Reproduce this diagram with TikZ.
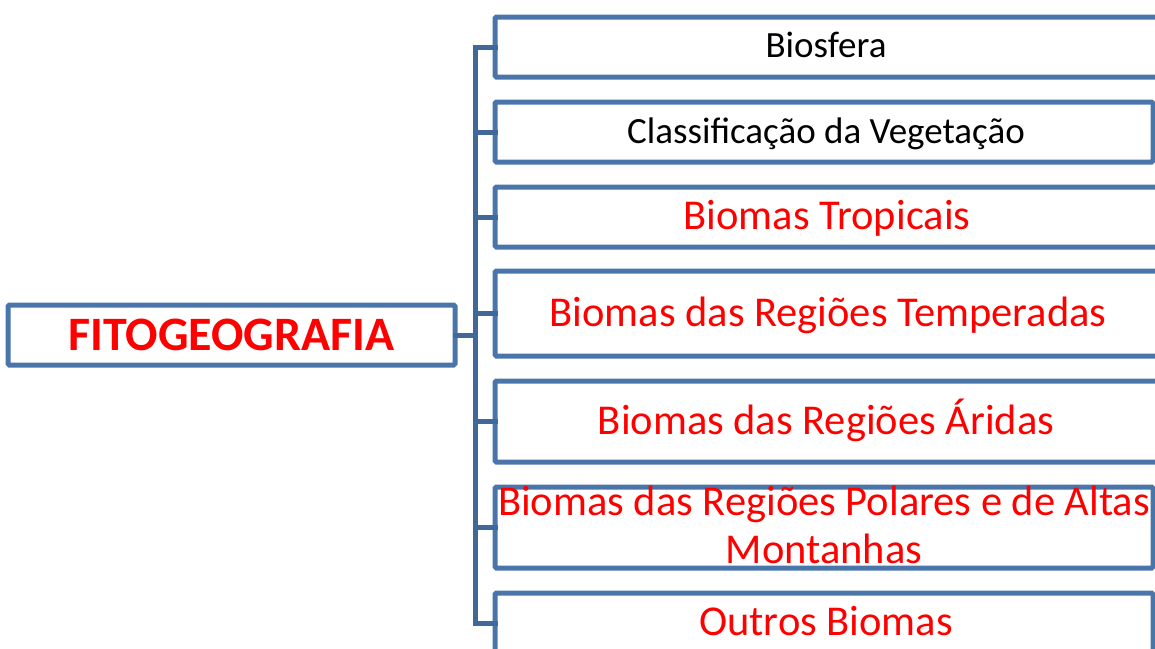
\documentclass[tikz,border=0pt]{standalone}
\usepackage{fontspec}
\setmainfont{Carlito}
\definecolor{boxblue}{RGB}{74,117,170}
\definecolor{linkblue}{RGB}{64,104,152}
\definecolor{fred}{RGB}{255,0,0}
\tikzset{
  box/.style={draw=boxblue, line width=5pt, rounded corners=1.5pt, fill=white, inner sep=0pt, outer sep=0pt, rectangle},
  link/.style={draw=linkblue, line width=5pt, line cap=rect},
  blacktxt/.style={text=black, font=\fontsize{37}{44}\selectfont, text height=23.8pt, text depth=0pt, inner sep=0pt},
  redtxt/.style={text=fred, font=\fontsize{42.5}{48}\selectfont, text height=27.4pt, text depth=0pt, inner sep=0pt},
  roottxt/.style={text=fred, font=\fontsize{48}{52}\selectfont\bfseries, text height=30.9pt, text depth=0pt, inner sep=0pt},
}
\begin{document}
\begin{tikzpicture}[x=1pt,y=-1pt]
\useasboundingbox (0,0) rectangle (1155,648);
\clip (0,0) rectangle (1155,648);
% trunk coordinates
\coordinate (ttop) at (475,47);
\coordinate (tbot) at (475,622);
\coordinate (troot) at (475,335);
% boxes
\node[box, minimum width=447pt, minimum height=60pt] (root) at (231.5,335) {};
\node[box, minimum width=668pt, minimum height=60pt] (b1) at (829,47) {};
\node[box, minimum width=658pt, minimum height=60pt] (b2) at (824,132) {};
\node[box, minimum width=668pt, minimum height=60pt] (b3) at (829,217) {};
\node[box, minimum width=668pt, minimum height=85pt] (b4) at (829,313.5) {};
\node[box, minimum width=668pt, minimum height=81pt] (b5) at (829,421.5) {};
\node[box, minimum width=658pt, minimum height=81pt] (b6) at (824,527.5) {};
\node[box, minimum width=658pt, minimum height=60pt] (b7) at (824,623) {};
% connectors
\draw[link] (ttop) -- (tbot);
\draw[link] (root.east) -- (troot);
\foreach \b/\yy in {b1/47,b2/132,b3/217,b4/313.5,b5/421.5,b6/527.5,b7/623}{
  \draw[link] (475,\yy) -- (\b.west);
}
% texts
\node[roottxt] (troottxt) at (root) {FITOGEOGRAFIA};
\node[blacktxt] (t1) at (826,46) {Biosfera};
\node[blacktxt] (t2) at (826,131.5) {Classificação da Vegetação};
\node[redtxt] (t3) at (827,216) {Biomas Tropicais};
\node[redtxt] (t4) at (828,313) {Biomas das Regiões Temperadas};
\node[redtxt] (t5) at (826,421) {Biomas das Regiões Áridas};
\node[redtxt, anchor=base] (t6a) at (824,515) {Biomas das Regiões Polares e de Altas};
\node[redtxt, anchor=base] (t6b) at (824,563) {Montanhas};
\node[redtxt] (t7) at (826,622) {Outros Biomas};
\end{tikzpicture}
\end{document}
